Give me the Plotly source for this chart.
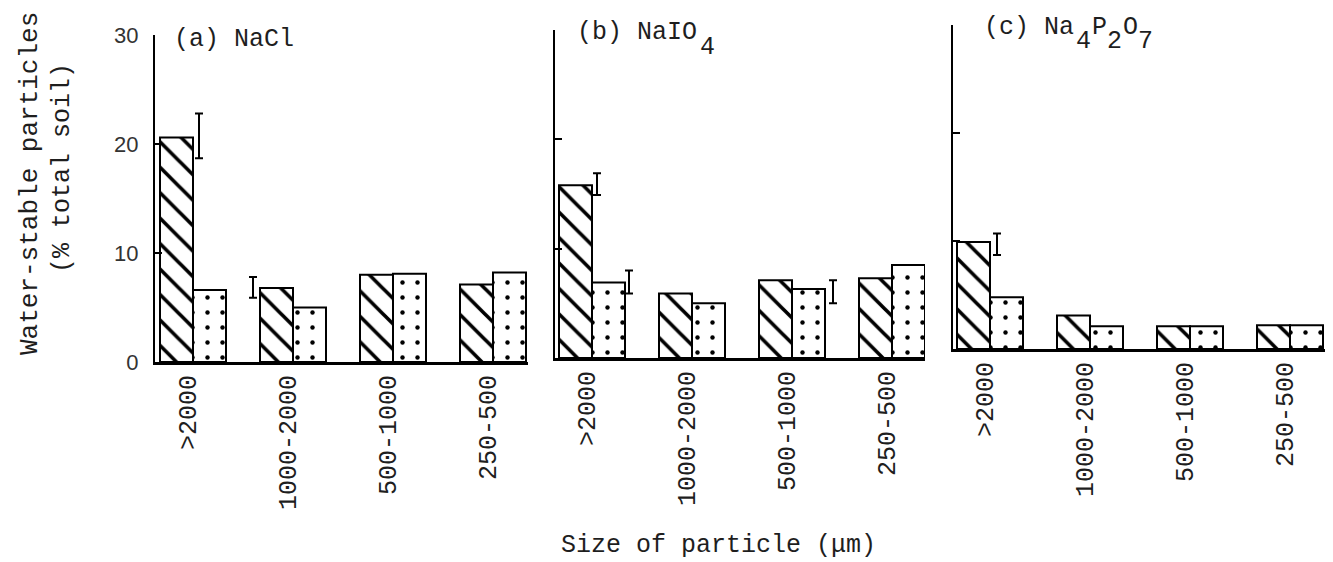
import plotly.graph_objects as go

# ---------------- data ----------------
categories = [">2000", "1000-2000", "500-1000", "250-500"]

nacl_hatched = [20.6, 6.8, 8.0, 7.1]
nacl_dotted = [6.6, 5.0, 8.1, 8.2]

naio4_hatched = [15.8, 5.9, 7.1, 7.3]
naio4_dotted = [6.9, 5.0, 6.3, 8.5]

napp_hatched = [9.9, 3.1, 2.1, 2.2]
napp_dotted = [4.8, 2.1, 2.1, 2.2]

# LSD bars: category index, centre value, half-length
nacl_lsd_cat = [0, 1]
nacl_lsd_mid = [20.75, 6.85]
nacl_lsd_half = [2.05, 0.95]

naio4_lsd_cat = [0, 0, 2]
naio4_lsd_mid = [15.9, 6.95, 6.05]
naio4_lsd_half = [1.0, 1.05, 1.05]

napp_lsd_cat = [0]
napp_lsd_mid = [9.7]
napp_lsd_half = [1.0]

y_ticks = [0, 10, 20, 30]

# panel titles as (text, is_subscript) chunks
title_a = [("(a) NaCl", False)]
title_b = [("(b) NaIO", False), ("4", True)]
title_c = [("(c) Na", False), ("4", True), ("P", False), ("2", True),
           ("O", False), ("7", True)]

# ---------------- styling ----------------
W, H = 1333, 562
MONO = "Liberation Mono, Courier New, monospace"
SANS = "Liberation Sans, Arial, sans-serif"
INK = "#1e1e1e"
CHAR_W = 15.4

panels = [
    dict(x0=155, x1=528, y0=362, y1=35, xr=[-0.38, 3.35],
         lsd_off=[0.06, -0.40]),
    dict(x0=555, x1=925, y0=358, y1=30, xr=[-0.37, 3.33],
         lsd_off=[0.05, 0.37, 0.41]),
    dict(x0=953, x1=1325, y0=349, y1=25, xr=[-0.37, 3.35],
         lsd_off=[0.07]),
]
titles = [title_a, title_b, title_c]
title_pos = [(172, 40), (575, 33), (982, 27)]
SUB_DY = 14

hatched = [nacl_hatched, naio4_hatched, napp_hatched]
dotted = [nacl_dotted, naio4_dotted, napp_dotted]
lsd_cat = [nacl_lsd_cat, naio4_lsd_cat, napp_lsd_cat]
lsd_mid = [nacl_lsd_mid, naio4_lsd_mid, napp_lsd_mid]
lsd_half = [nacl_lsd_half, naio4_lsd_half, napp_lsd_half]

xs = list(range(len(categories)))

fig = go.Figure()
layout = dict(
    template="none",
    width=W, height=H,
    margin=dict(l=0, r=0, t=0, b=0, autoexpand=False),
    paper_bgcolor="white", plot_bgcolor="rgba(0,0,0,0)",
    showlegend=False,
    barmode="group", bargap=0.34, bargroupgap=0.0,
    annotations=[],
)

for i, p in enumerate(panels):
    sfx = "" if i == 0 else str(i + 1)
    xa, ya = "x" + sfx, "y" + sfx
    fig.add_trace(go.Bar(
        x=xs, y=hatched[i], xaxis=xa, yaxis=ya, offsetgroup="h",
        marker=dict(color="white", line=dict(color="black", width=2),
                    pattern=dict(shape="\\", fgcolor="black", bgcolor="white",
                                 size=18, solidity=0.2)),
    ))
    fig.add_trace(go.Bar(
        x=xs, y=dotted[i], xaxis=xa, yaxis=ya, offsetgroup="d",
        marker=dict(color="white", line=dict(color="black", width=2),
                    pattern=dict(shape=".", fgcolor="black", bgcolor="white",
                                 size=15, solidity=0.07)),
    ))
    fig.add_trace(go.Scatter(
        x=[c + o for c, o in zip(lsd_cat[i], p["lsd_off"])],
        y=lsd_mid[i], xaxis=xa, yaxis=ya, mode="markers",
        marker=dict(size=1, color="rgba(0,0,0,0)"),
        error_y=dict(type="data", array=lsd_half[i], symmetric=True,
                     color="black", thickness=2, width=4),
    ))

    xdom = [p["x0"] / W, p["x1"] / W]
    ydom = [(H - p["y0"]) / H, (H - p["y1"]) / H]
    layout["xaxis" + sfx] = dict(
        domain=xdom, range=p["xr"], anchor=ya, automargin=False,
        showline=True, linecolor="black", linewidth=3,
        showgrid=False, zeroline=False, ticks="",
        tickmode="array", tickvals=[v - 0.05 for v in xs], ticktext=categories,
        tickangle=-90, tickfont=dict(family=MONO, size=25, color=INK),
        ticklabelstandoff=0,
    )
    layout["yaxis" + sfx] = dict(
        domain=ydom, range=[0, 30], anchor=xa, automargin=False,
        showline=True, linecolor="black", linewidth=2,
        showgrid=False, zeroline=False,
        ticks="inside", ticklen=7, tickwidth=2, tickcolor="black",
        tickmode="array", tickvals=y_ticks,
        showticklabels=(i == 0),
        tickfont=dict(family=SANS, size=22, color="#333"),
        ticklabelstandoff=10,
    )

    tx, ty = title_pos[i]
    col = 0
    for text, is_sub in titles[i]:
        layout["annotations"].append(dict(
            x=(tx + col * CHAR_W) / W,
            y=(H - ty - (SUB_DY if is_sub else 0)) / H,
            xref="paper", yref="paper",
            xanchor="left", yanchor="middle", showarrow=False,
            text=text.replace(" ", "\u00a0"),
            font=dict(family=MONO, size=25, color=INK),
        ))
        col += len(text)

# axis titles
layout["annotations"] += [
    dict(x=30 / W, y=(H - 184) / H, xref="paper", yref="paper",
         xanchor="center", yanchor="middle", showarrow=False, textangle=-90,
         text="Water-stable particles", font=dict(family=MONO, size=26, color=INK)),
    dict(x=62 / W, y=(H - 168) / H, xref="paper", yref="paper",
         xanchor="center", yanchor="middle", showarrow=False, textangle=-90,
         text="(% total soil)", font=dict(family=MONO, size=25, color=INK)),
    dict(x=718 / W, y=(H - 545) / H, xref="paper", yref="paper",
         xanchor="center", yanchor="middle", showarrow=False,
         text="Size of particle (μm)", font=dict(family=MONO, size=25, color=INK)),
]

fig.update_layout(**layout)
fig.write_html("out.html")
